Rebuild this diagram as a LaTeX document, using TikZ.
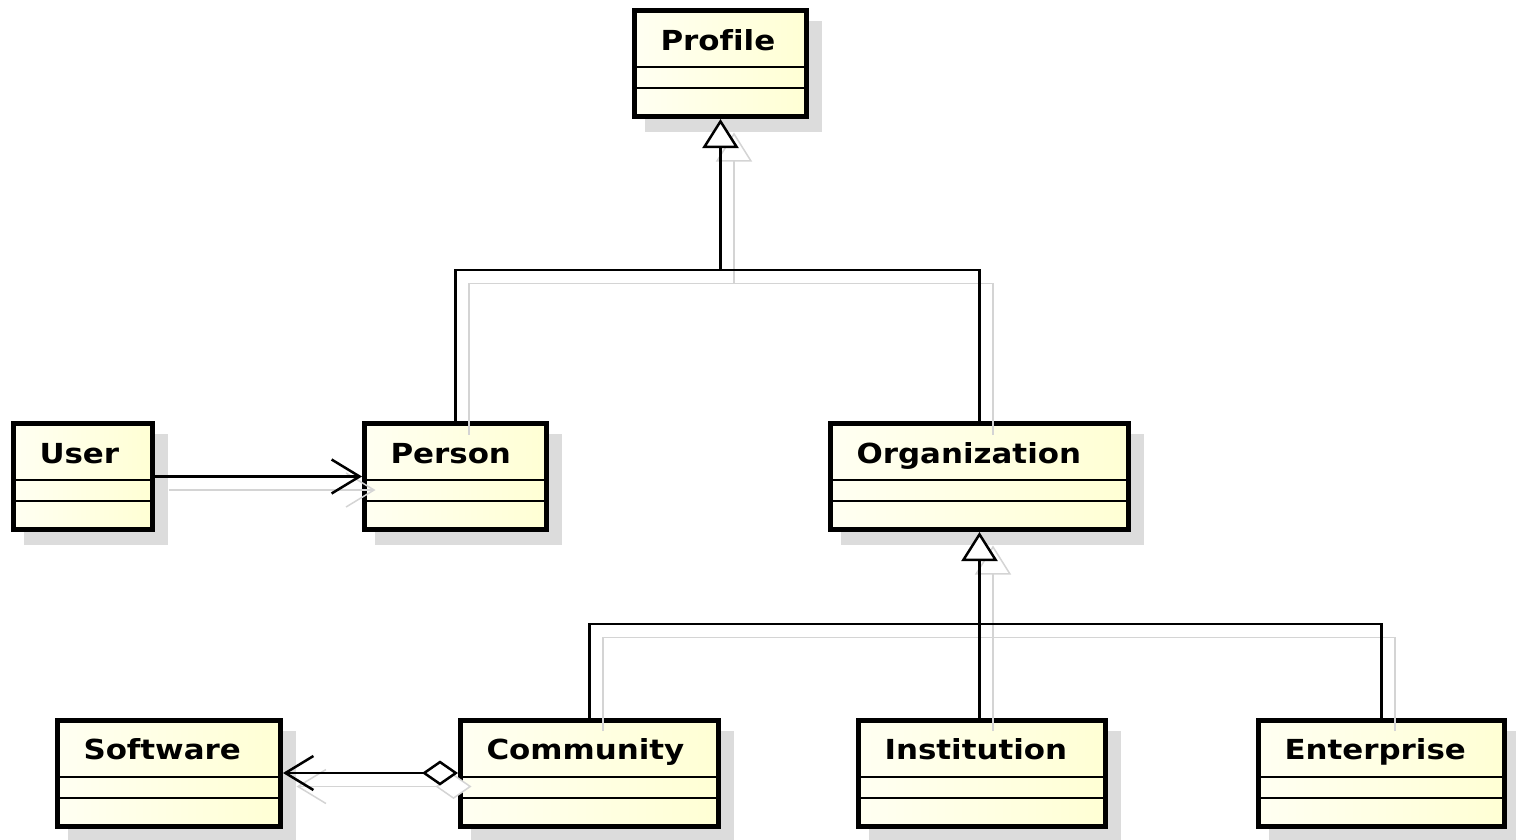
\documentclass[tikz,border=0pt]{standalone}
\usepackage{fontspec}
\setmainfont{DejaVu Sans}[FakeStretch=1.12, Ligatures=NoCommon]
\usetikzlibrary{arrows.meta,shadows}

\definecolor{creamleft}{RGB}{255,255,242}
\definecolor{creamright}{RGB}{255,255,212}
\definecolor{boxshadow}{RGB}{220,220,220}
\definecolor{linkgray}{RGB}{212,212,212}

\tikzset{
  classbox/.style={draw, line width=5pt, left color=creamleft, right color=creamright,
    text width=#1, align=left, inner xsep=26pt, inner ysep=0pt,
    text height=39.5pt, text depth=66.5pt,
    font=\bfseries\fontsize{27.6}{30}\selectfont,
    drop shadow={shadow xshift=13pt, shadow yshift=-13pt,
      fill=boxshadow, draw=boxshadow, opacity=1}},
  compline/.style={line width=2pt},
  link/.style={color=black, line width=2.5pt},
  linkshadow/.style={color=linkgray, line width=1.5pt,
    transform canvas={shift={(13.5pt,-13.5pt)}}},
  gen/.style={-{Triangle[open, fill=white, length=29pt, width=36pt]}},
  assoc/.style={-{Straight Barb[length=28pt, width=34pt]}},
  aggr/.style={{Diamond[open, fill=white, length=36pt, width=25pt]}-{Straight Barb[length=28pt, width=34pt]}}
}

% connectors, drawn once as shadow and once in black
\newcommand\umllinks{
  \draw[gen] (person.north) |- (pj) -- (profile.south);
  \draw (organization.north) |- (pj);
  \draw[gen] (oj |- institution.north) -- (organization.south);
  \draw (community.north) |- (oj);
  \draw (enterprise.north) |- (oj);
  \draw[assoc] (user.east) -- (person.west);
  \draw[aggr] (community.west) -- (software.east);
}

\begin{document}
\begin{tikzpicture}[x=1pt, y=-1pt]
  \useasboundingbox (0,0) rectangle (1516,839);

  \node[classbox=120pt] (profile) at (720.5,63.5) {Profile};

  \node[classbox=87pt] (user) at (83,476.5) {User};
  \node[classbox=130pt] (person) at (455.5,476.5) {Person};
  \node[classbox=246pt] (organization) at (979.5,476.5) {Organization};

  \node[classbox=171pt] (software) at (169,773) {Software};
  \node[classbox=206pt] (community) at (589.5,773) {Community};
  \node[classbox=195pt] (institution) at (982,773) {Institution};
  \node[classbox=194pt] (enterprise) at (1381.5,773) {Enterprise};

  \foreach \c in {profile,user,person,organization,software,community,institution,enterprise}{
    \draw[compline] ([yshift=-59pt]\c.north west) -- ([yshift=-59pt]\c.north east);
    \draw[compline] ([yshift=-80pt]\c.north west) -- ([yshift=-80pt]\c.north east);
  }

  \coordinate (pj) at (720.5,270);
  \path (organization.south) ++(0,92) coordinate (oj);

  \begin{scope}[linkshadow]
    \umllinks
  \end{scope}
  \begin{scope}[link]
    \umllinks
  \end{scope}
\end{tikzpicture}
\end{document}
